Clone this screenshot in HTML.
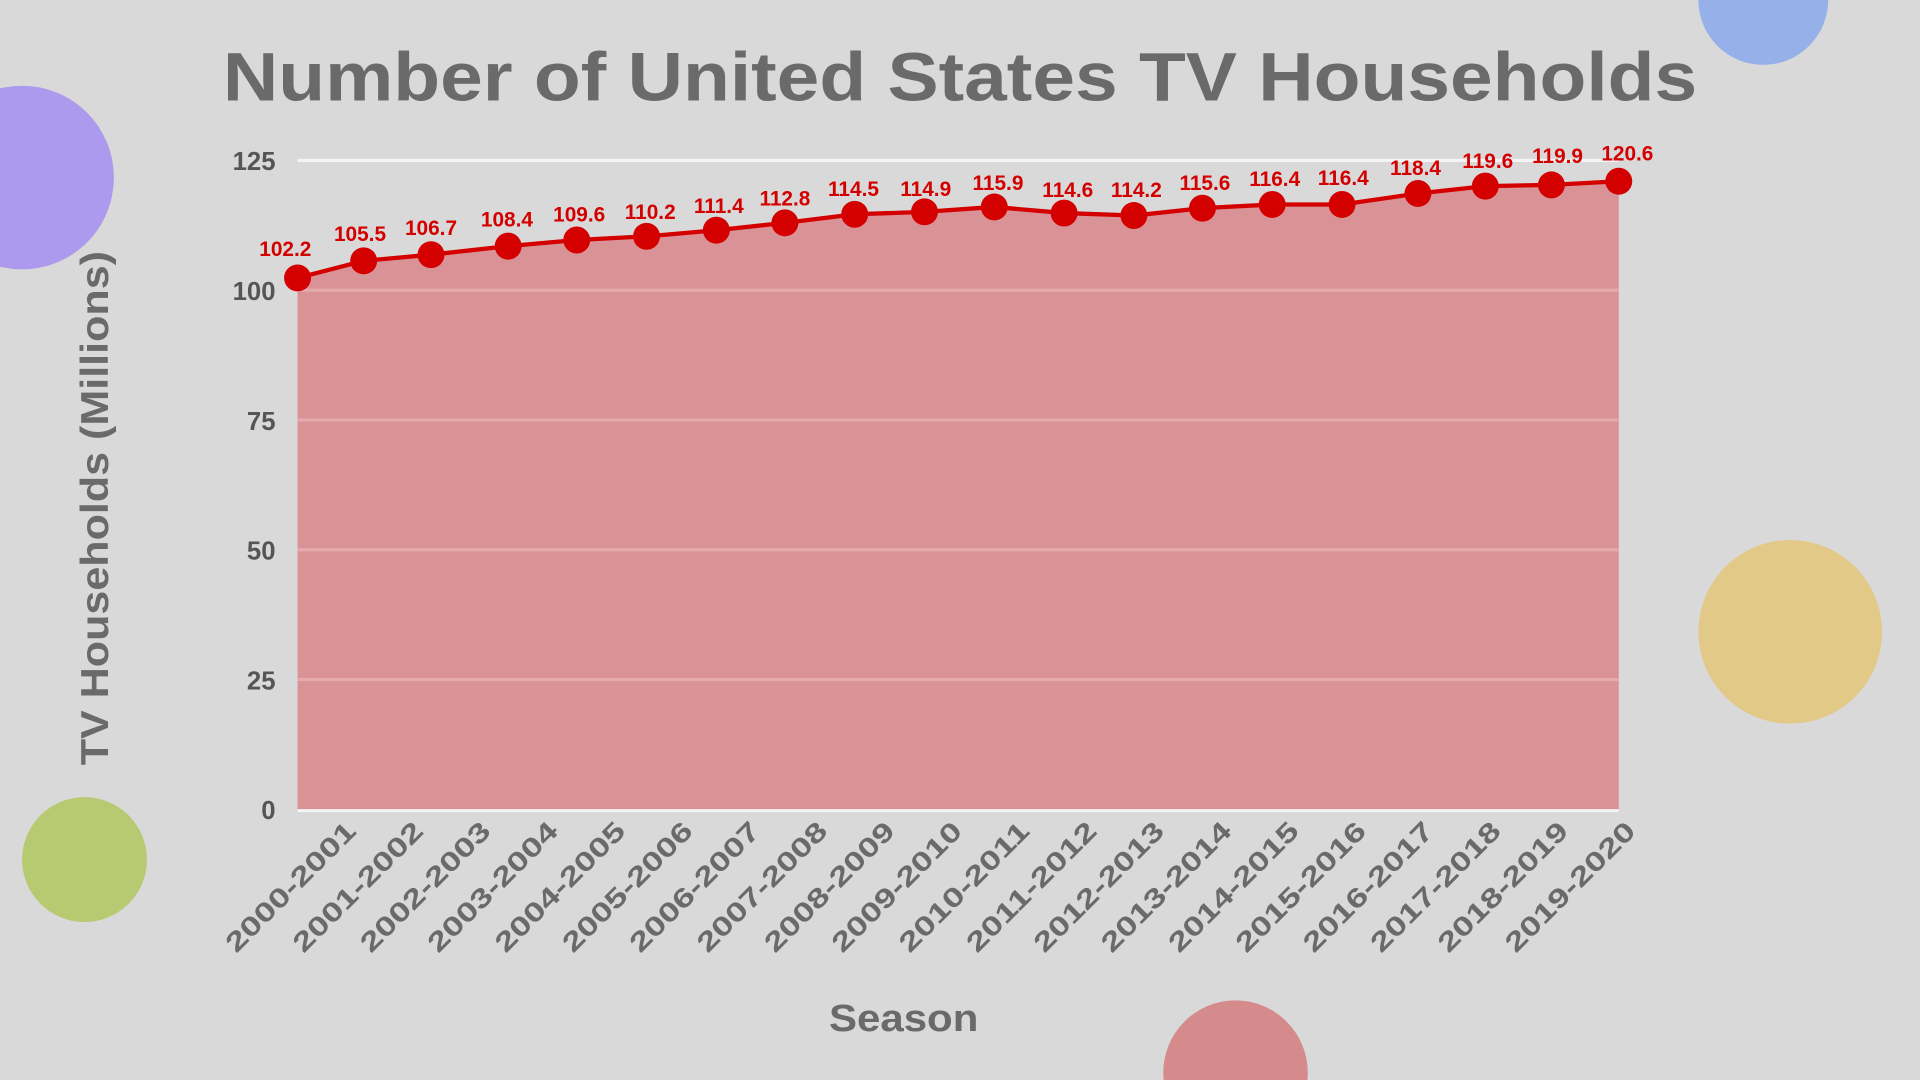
<!DOCTYPE html>
<html><head><meta charset="utf-8"><style>html,body{margin:0;padding:0;background:#d9d9d9;overflow:hidden;width:1920px;height:1080px}svg{display:block}</style></head>
<body>
<svg width="1920" height="1080" viewBox="0 0 1568 882" xmlns="http://www.w3.org/2000/svg" font-family="Liberation Sans, sans-serif" font-weight="bold">
<rect width="1568" height="882" fill="#d9d9d9"/>
<circle cx="18" cy="145" r="75" fill="#ab9aee"/>
<circle cx="1440" cy="0" r="53" fill="#96b1ea"/>
<circle cx="1462" cy="516" r="75" fill="#e3c987"/>
<circle cx="69" cy="702" r="51" fill="#b7ca72"/>
<circle cx="1009" cy="876" r="59" fill="#d58a8b"/>
<text x="182" y="82" font-size="56" fill="#6a6a6a" textLength="1204" lengthAdjust="spacingAndGlyphs">Number of United States TV Households</text>
<text transform="translate(88,415) rotate(-90)" text-anchor="middle" font-size="32" fill="#6a6a6a" textLength="420" lengthAdjust="spacingAndGlyphs">TV Households (Millions)</text>
<text x="738" y="842" text-anchor="middle" font-size="31" fill="#6a6a6a" textLength="122" lengthAdjust="spacingAndGlyphs">Season</text>
<polygon fill="#d99396" points="243,662 243,227 297,213 352,208 415,201 471,196 528,193 585,188 641,182 698,175 755,173 812,169 869,174 926,176 982,170 1039,167 1096,167 1158,158 1213,152 1267,151 1322,148 1322,662"/>
<g stroke-width="2.5">
<line x1="243" y1="131" x2="1322" y2="131" stroke="#f4f4f4"/>
<line x1="243" y1="237" x2="1322" y2="237" stroke="#e4aaae"/>
<line x1="243" y1="343" x2="1322" y2="343" stroke="#e4aaae"/>
<line x1="243" y1="449" x2="1322" y2="449" stroke="#e4aaae"/>
<line x1="243" y1="555" x2="1322" y2="555" stroke="#e4aaae"/>
<line x1="243" y1="662" x2="1322" y2="662" stroke="#f4f4f4"/>
</g>
<g font-size="21" fill="#555" text-anchor="end">
<text x="225" y="139">125</text><text x="225" y="245">100</text><text x="225" y="351">75</text><text x="225" y="457">50</text><text x="225" y="563">25</text><text x="225" y="669">0</text>
</g>
<polyline fill="none" stroke="#d40000" stroke-width="3.5" points="243,227 297,213 352,208 415,201 471,196 528,193 585,188 641,182 698,175 755,173 812,169 869,174 926,176 982,170 1039,167 1096,167 1158,158 1213,152 1267,151 1322,148"/>
<g fill="#d40000">
<circle cx="243" cy="227" r="11"/><circle cx="297" cy="213" r="11"/><circle cx="352" cy="208" r="11"/><circle cx="415" cy="201" r="11"/><circle cx="471" cy="196" r="11"/><circle cx="528" cy="193" r="11"/><circle cx="585" cy="188" r="11"/><circle cx="641" cy="182" r="11"/><circle cx="698" cy="175" r="11"/><circle cx="755" cy="173" r="11"/><circle cx="812" cy="169" r="11"/><circle cx="869" cy="174" r="11"/><circle cx="926" cy="176" r="11"/><circle cx="982" cy="170" r="11"/><circle cx="1039" cy="167" r="11"/><circle cx="1096" cy="167" r="11"/><circle cx="1158" cy="158" r="11"/><circle cx="1213" cy="152" r="11"/><circle cx="1267" cy="151" r="11"/><circle cx="1322" cy="148" r="11"/>
</g>
<g font-size="17" fill="#d40000" text-anchor="middle">
<text x="233" y="209">102.2</text><text x="294" y="197">105.5</text><text x="352" y="192">106.7</text><text x="414" y="185">108.4</text><text x="473" y="181">109.6</text><text x="531" y="179">110.2</text><text x="587" y="174">111.4</text><text x="641" y="168">112.8</text><text x="697" y="160">114.5</text><text x="756" y="160">114.9</text><text x="815" y="155">115.9</text><text x="872" y="161">114.6</text><text x="928" y="161">114.2</text><text x="984" y="155">115.6</text><text x="1041" y="152">116.4</text><text x="1097" y="151">116.4</text><text x="1156" y="143">118.4</text><text x="1215" y="137">119.6</text><text x="1272" y="133">119.9</text><text x="1329" y="131">120.6</text>
</g>
<g font-size="22" fill="#6a6a6a" text-anchor="end">
<text transform="translate(292,680) rotate(-45)" textLength="140" lengthAdjust="spacingAndGlyphs">2000-2001</text>
<text transform="translate(347,680) rotate(-45)" textLength="140" lengthAdjust="spacingAndGlyphs">2001-2002</text>
<text transform="translate(402,680) rotate(-45)" textLength="140" lengthAdjust="spacingAndGlyphs">2002-2003</text>
<text transform="translate(457,680) rotate(-45)" textLength="140" lengthAdjust="spacingAndGlyphs">2003-2004</text>
<text transform="translate(512,680) rotate(-45)" textLength="140" lengthAdjust="spacingAndGlyphs">2004-2005</text>
<text transform="translate(567,680) rotate(-45)" textLength="140" lengthAdjust="spacingAndGlyphs">2005-2006</text>
<text transform="translate(622,680) rotate(-45)" textLength="140" lengthAdjust="spacingAndGlyphs">2006-2007</text>
<text transform="translate(677,680) rotate(-45)" textLength="140" lengthAdjust="spacingAndGlyphs">2007-2008</text>
<text transform="translate(732,680) rotate(-45)" textLength="140" lengthAdjust="spacingAndGlyphs">2008-2009</text>
<text transform="translate(787,680) rotate(-45)" textLength="140" lengthAdjust="spacingAndGlyphs">2009-2010</text>
<text transform="translate(842,680) rotate(-45)" textLength="140" lengthAdjust="spacingAndGlyphs">2010-2011</text>
<text transform="translate(897,680) rotate(-45)" textLength="140" lengthAdjust="spacingAndGlyphs">2011-2012</text>
<text transform="translate(952,680) rotate(-45)" textLength="140" lengthAdjust="spacingAndGlyphs">2012-2013</text>
<text transform="translate(1007,680) rotate(-45)" textLength="140" lengthAdjust="spacingAndGlyphs">2013-2014</text>
<text transform="translate(1062,680) rotate(-45)" textLength="140" lengthAdjust="spacingAndGlyphs">2014-2015</text>
<text transform="translate(1117,680) rotate(-45)" textLength="140" lengthAdjust="spacingAndGlyphs">2015-2016</text>
<text transform="translate(1172,680) rotate(-45)" textLength="140" lengthAdjust="spacingAndGlyphs">2016-2017</text>
<text transform="translate(1227,680) rotate(-45)" textLength="140" lengthAdjust="spacingAndGlyphs">2017-2018</text>
<text transform="translate(1282,680) rotate(-45)" textLength="140" lengthAdjust="spacingAndGlyphs">2018-2019</text>
<text transform="translate(1337,680) rotate(-45)" textLength="140" lengthAdjust="spacingAndGlyphs">2019-2020</text>
</g>
</svg>
</body></html>
